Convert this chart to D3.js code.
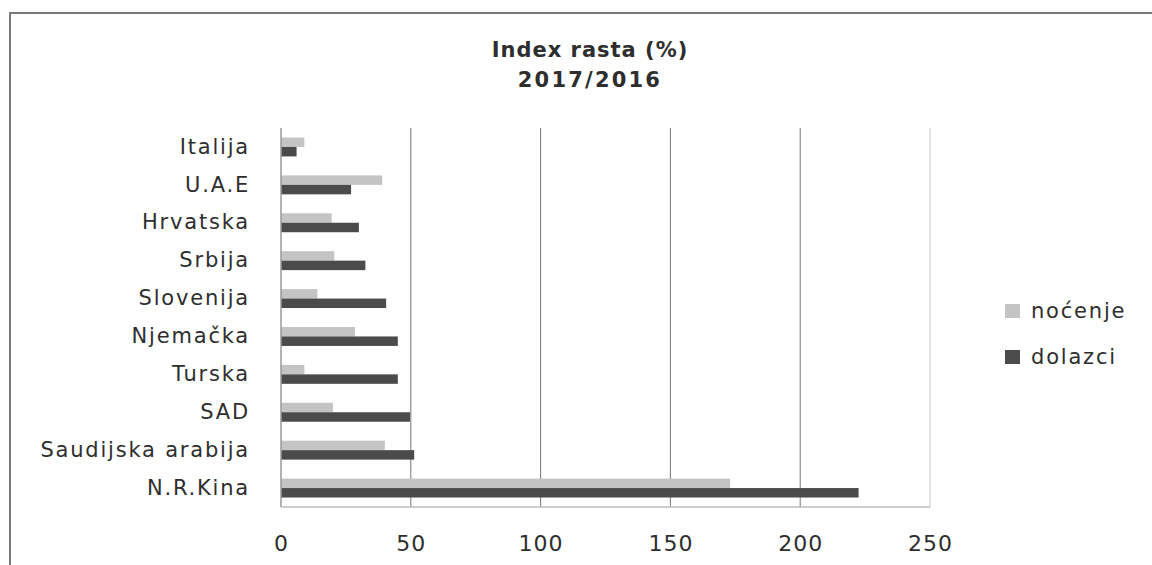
<!DOCTYPE html>
<html>
<head>
<meta charset="utf-8">
<script src="https://cdn.jsdelivr.net/npm/d3@7"></script>
<style>
  body { margin: 0; background: #fff; }
  text { font-family: "DejaVu Sans", sans-serif; fill: #2e2e2e; }
</style>
</head>
<body>
<div id="chart"></div>
<script>
// 1: DATA
const countries = ["Italija", "U.A.E", "Hrvatska", "Srbija", "Slovenija", "Njemačka",
    "Turska", "SAD", "Saudijska arabija", "N.R.Kina"];
const nocenje = [9, 39, 19.5, 20.5, 14, 28.5, 9, 20, 40, 173];
const dolazci = [6, 27, 30, 32.5, 40.5, 45, 45, 49.7, 51.3, 222.5];
const seriesNames = ["noćenje", "dolazci"];
const xTicks = [0, 50, 100, 150, 200, 250];
const titleLines = ["Index rasta (%)", "2017/2016"];

// 2: SET GLOBAL VARIABLES
const W = 1152, H = 565;
const plot = { left: 281, right: 930, top: 128, bottom: 507 };
const colors = { "noćenje": "#c4c4c4", "dolazci": "#4b4b4b" };

const svg = d3.select("#chart")
    .append("svg")
    .attr("width", W)
    .attr("height", H);

// outer frame (scanned page border)
svg.append("line")
    .attr("x1", 9).attr("x2", W).attr("y1", 13).attr("y2", 13)
    .attr("stroke", "#7a7a7a").attr("stroke-width", 2);
svg.append("line")
    .attr("x1", 10).attr("x2", 10).attr("y1", 13).attr("y2", H)
    .attr("stroke", "#7a7a7a").attr("stroke-width", 2);

// 3: SCALES
const x = d3.scaleLinear()
    .domain([0, 250])
    .range([plot.left, plot.right]);

const y = d3.scaleBand()
    .domain(countries)
    .range([plot.top, plot.bottom])
    .paddingInner(0.5)
    .paddingOuter(0.25);

const ySub = d3.scaleBand()
    .domain(seriesNames)
    .range([0, y.bandwidth()]);

// 4: GRIDLINES
svg.append("g")
    .selectAll("line")
    .data(xTicks.filter(d => d > 0))
    .enter()
    .append("line")
    .attr("x1", d => x(d)).attr("x2", d => x(d))
    .attr("y1", plot.top).attr("y2", plot.bottom)
    .attr("stroke", d => d === 250 ? "#c8c8c8" : "#777")
    .attr("stroke-width", 1);

// 5: BARS
const rows = countries.map((c, i) => ({ country: c, "noćenje": nocenje[i], "dolazci": dolazci[i] }));

svg.append("g")
    .selectAll("g")
    .data(rows)
    .enter()
    .append("g")
    .attr("transform", d => `translate(0,${y(d.country)})`)
    .selectAll("rect")
    .data(d => seriesNames.map(s => ({ key: s, value: d[s] })))
    .enter()
    .append("rect")
    .attr("x", x(0))
    .attr("y", d => ySub(d.key))
    .attr("width", d => x(d.value) - x(0))
    .attr("height", ySub.bandwidth())
    .attr("fill", d => colors[d.key]);

// 6: AXES
// bottom axis line
svg.append("line")
    .attr("x1", plot.left).attr("x2", plot.right)
    .attr("y1", plot.bottom).attr("y2", plot.bottom)
    .attr("stroke", "#bdbdbd").attr("stroke-width", 1.5);

// left axis line
svg.append("line")
    .attr("x1", plot.left).attr("x2", plot.left)
    .attr("y1", plot.top).attr("y2", plot.bottom)
    .attr("stroke", "#9a9a9a").attr("stroke-width", 1.5);

const xAxis = svg.append("g")
    .attr("transform", `translate(0,${plot.bottom})`)
    .call(d3.axisBottom(x).tickValues(xTicks).tickSize(0).tickPadding(28));
xAxis.select(".domain").remove();
xAxis.selectAll("text")
    .attr("font-family", "DejaVu Sans")
    .style("font-size", "22px")
    .style("letter-spacing", "1px")
    .attr("fill", "#2e2e2e");

const yAxis = svg.append("g")
    .attr("transform", `translate(${plot.left - 31},0)`)
    .call(d3.axisLeft(y).tickSize(0).tickPadding(0));
yAxis.select(".domain").remove();
yAxis.selectAll("text")
    .attr("font-family", "DejaVu Sans")
    .style("font-size", "21px")
    .style("letter-spacing", "1.8px")
    .attr("fill", "#2e2e2e");

// 7: TITLE
svg.append("g")
    .selectAll("text")
    .data(titleLines)
    .enter()
    .append("text")
    .attr("x", 590)
    .attr("y", (d, i) => 57 + i * 30)
    .attr("text-anchor", "middle")
    .style("font-size", "21px")
    .style("font-weight", "bold")
    .style("letter-spacing", (d, i) => i === 0 ? "1px" : "2.2px")
    .text(d => d);

// 8: LEGEND
const legend = svg.append("g")
    .selectAll("g")
    .data(seriesNames)
    .enter()
    .append("g")
    .attr("transform", (d, i) => `translate(1005,${304 + i * 46})`);

legend.append("rect")
    .attr("width", 15)
    .attr("height", 14)
    .attr("fill", d => colors[d]);

legend.append("text")
    .attr("x", 26)
    .attr("y", 14)
    .style("font-size", "21px")
    .style("letter-spacing", "1.8px")
    .text(d => d);
</script>
</body>
</html>
